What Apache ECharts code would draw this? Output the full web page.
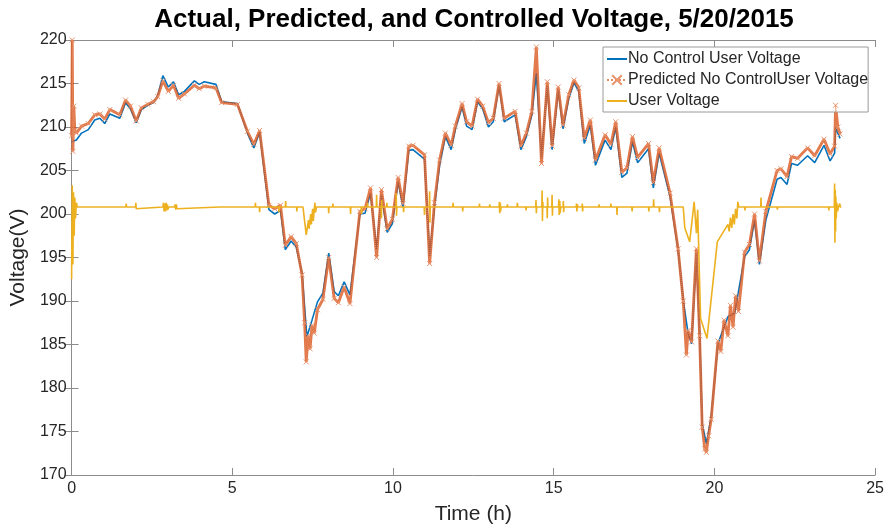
<!DOCTYPE html>
<html>
<head>
<meta charset="utf-8">
<script src="https://cdn.jsdelivr.net/npm/echarts@6/dist/echarts.min.js"></script>
<style>html,body{margin:0;padding:0;background:#fff;}#c{width:887px;height:531px;}</style>
</head>
<body>
<div id="c"></div>
<script>
const xTicks = [0, 5, 10, 15, 20, 25];
const yTicks = [170, 175, 180, 185, 190, 195, 200, 205, 210, 215, 220];
const seriesNames = ['No Control User Voltage', 'Predicted No ControlUser Voltage', 'User Voltage'];

const noControl = [
[0,208.3],[0.15,208.5],[0.31,209.3],[0.52,209.7],[0.72,210.8],[0.88,211.0],[1.03,210.4],[1.19,211.5],[1.5,211.0],[1.68,212.8],[1.83,212.1],[2.01,210.5],[2.17,212.0],[2.37,212.5],[2.55,212.8],[2.68,213.6],[2.84,215.9],[3.01,214.6],[3.17,215.2],[3.33,213.7],[3.51,214.1],[3.82,215.3],[3.97,214.9],[4.13,215.2],[4.49,214.9],[4.67,212.9],[5.16,212.7],[5.47,209.3],[5.67,207.6],[5.85,209.4],[6.14,200.5],[6.32,200.0],[6.5,200.4],[6.65,195.9],[6.83,196.9],[6.99,196.2],[7.17,193.2],[7.32,185.9],[7.48,187.8],[7.65,189.9],[7.82,190.9],[8.0,195.5],[8.17,191.1],[8.3,190.6],[8.48,192.2],[8.66,190.7],[8.97,200.0],[9.13,200.1],[9.3,202.4],[9.49,195.9],[9.64,202.2],[9.82,197.9],[9.98,198.9],[10.16,203.7],[10.31,200.8],[10.49,207.3],[10.62,207.4],[10.98,206.3],[11.14,195.1],[11.29,200.8],[11.45,205.6],[11.63,208.9],[11.81,207.4],[11.94,209.7],[12.15,212.3],[12.29,210.1],[12.46,209.7],[12.63,212.9],[12.79,212.1],[12.97,210.0],[13.12,210.6],[13.3,214.8],[13.46,210.6],[13.8,211.4],[13.98,207.4],[14.15,208.9],[14.32,211.4],[14.46,216.2],[14.62,206.4],[14.8,214.8],[14.95,207.4],[15.14,214.3],[15.29,209.8],[15.47,213.3],[15.63,215.1],[15.78,214.1],[15.95,208.1],[16.14,210.2],[16.3,205.6],[16.6,208.5],[16.78,207.4],[16.93,210.0],[17.12,204.2],[17.28,204.7],[17.45,208.3],[17.61,205.9],[17.95,207.5],[18.1,203.0],[18.28,207.0],[18.62,202.0],[18.87,195.9],[19.03,190.1],[19.18,186.3],[19.29,185.1],[19.44,195.5],[19.54,186.3],[19.62,175.9],[19.75,173.6],[19.9,176.7],[20.11,185.1],[20.42,188.2],[20.63,188.6],[20.94,195.1],[21.09,195.9],[21.25,199.3],[21.4,194.2],[21.6,199.3],[21.95,204.0],[22.07,204.2],[22.26,203.4],[22.4,205.8],[22.59,205.6],[22.9,206.7],[23.12,205.9],[23.41,207.9],[23.6,206.1],[23.74,207.0],[23.77,209.9],[23.91,208.7]
];

const predicted = [
[0,209.0],[0.02,220.0],[0.04,207.2],[0.07,212.4],[0.1,209.6],[0.15,209.3],[0.31,210.1],[0.52,210.4],[0.72,211.4],[0.88,211.5],[1.03,210.9],[1.19,212.0],[1.5,211.4],[1.68,213.1],[1.83,212.4],[2.01,210.7],[2.17,212.2],[2.37,212.6],[2.55,212.9],[2.68,213.5],[2.84,215.3],[3.01,214.1],[3.17,214.8],[3.33,213.3],[3.51,213.8],[3.82,214.8],[3.97,214.4],[4.13,214.7],[4.49,214.5],[4.67,212.8],[5.16,212.6],[5.47,209.5],[5.67,208.0],[5.85,209.6],[6.14,201.0],[6.32,200.6],[6.5,201.0],[6.65,196.4],[6.83,197.4],[6.99,196.6],[7.17,193.0],[7.25,187.5],[7.3,183.0],[7.36,186.0],[7.42,184.5],[7.48,187.2],[7.55,186.3],[7.65,189.0],[7.82,190.2],[8.0,195.0],[8.17,190.3],[8.3,189.8],[8.48,191.6],[8.66,189.7],[8.97,200.3],[9.13,200.6],[9.3,203.0],[9.49,195.0],[9.64,202.8],[9.82,198.3],[9.98,199.4],[10.16,204.2],[10.31,201.2],[10.49,207.8],[10.62,207.9],[10.98,206.8],[11.14,194.3],[11.29,201.3],[11.45,206.2],[11.63,209.3],[11.81,207.9],[11.94,210.1],[12.15,212.7],[12.29,210.6],[12.46,210.1],[12.63,213.2],[12.79,212.4],[12.97,210.5],[13.12,211.0],[13.3,215.0],[13.46,211.0],[13.8,211.8],[13.98,207.8],[14.15,209.3],[14.32,211.8],[14.46,219.2],[14.62,205.8],[14.8,215.2],[14.95,207.8],[15.14,214.6],[15.29,210.2],[15.47,213.7],[15.63,215.4],[15.78,214.5],[15.95,208.7],[16.14,210.8],[16.3,206.2],[16.6,209.1],[16.78,208.0],[16.93,210.6],[17.12,204.8],[17.28,205.3],[17.45,208.9],[17.61,206.5],[17.95,208.1],[18.1,203.6],[18.28,207.6],[18.62,202.4],[18.87,196.0],[19.03,190.0],[19.13,183.8],[19.18,186.6],[19.29,185.3],[19.44,196.0],[19.54,186.0],[19.62,175.5],[19.7,173.0],[19.75,172.6],[19.82,174.5],[19.9,176.4],[20.11,185.4],[20.2,184.2],[20.3,187.8],[20.42,186.0],[20.5,189.5],[20.58,187.0],[20.66,190.6],[20.75,188.8],[20.94,195.6],[21.09,196.5],[21.25,200.0],[21.4,194.6],[21.6,200.3],[21.95,205.0],[22.07,205.2],[22.26,204.3],[22.4,206.6],[22.59,206.4],[22.9,207.6],[23.12,206.7],[23.41,208.6],[23.6,206.9],[23.74,207.8],[23.77,212.5],[23.84,210.0],[23.91,209.2]
];

const userVoltage = [
[0,192.5],[0.02,203.3],[0.04,194.2],[0.06,202.5],[0.08,197.5],[0.1,201.9],[0.12,199.5],[0.15,201.3],[0.18,200.8],
[1.69,200.8],[1.7,201.2],[1.71,200.8],
[1.99,200.8],[2.0,201.3],[2.01,200.6],[2.02,200.8],
[2.84,200.8],[2.86,201.3],[2.88,200.3],[2.9,201.2],[2.92,200.3],[2.94,201.3],[2.96,200.4],[2.98,201.1],[3.0,200.5],[3.02,200.8],
[3.2,200.8],[3.22,201.1],[3.24,200.5],[3.26,201.1],[3.28,200.6],[3.3,200.8],
[4.6,200.8],[4.61,201.0],[4.62,200.8],
[5.71,200.8],[5.72,201.3],[5.73,200.8],[5.84,200.8],[5.85,200.2],[5.86,200.8],
[6.44,200.8],[6.45,200.2],[6.46,200.8],[6.65,200.8],[6.66,201.5],[6.67,200.8],
[7.0,200.8],[7.01,200.3],[7.02,200.8],
[7.2,200.8],[7.3,197.6],[7.37,199.3],[7.39,198.3],[7.44,200.0],[7.46,198.8],[7.5,200.6],[7.52,199.2],[7.57,201.3],[7.59,200.2],[7.62,200.8],
[7.99,200.8],[8.0,200.1],[8.01,200.8],
[8.12,200.8],[8.13,201.2],[8.14,200.8],
[8.67,200.8],[8.68,200.0],[8.69,200.8],
[9.01,200.8],[9.02,200.0],[9.03,200.8],
[9.2,200.8],[9.21,201.3],[9.22,200.8],
[9.48,200.8],[9.49,202.2],[9.5,200.8],
[9.63,200.8],[9.64,199.5],[9.65,201.6],[9.66,200.8],
[9.8,200.8],[9.81,201.3],[9.82,200.8],
[10.09,200.8],[10.1,202.4],[10.11,199.8],[10.12,200.8],
[10.32,200.8],[10.33,200.2],[10.34,200.8],
[10.97,200.8],[10.98,199.9],[10.99,200.8],
[11.13,200.8],[11.14,202.6],[11.15,199.0],[11.16,200.8],
[11.86,200.8],[11.87,201.3],[11.88,200.8],
[12.16,200.8],[12.17,200.3],[12.18,200.8],
[12.68,200.8],[12.69,201.2],[12.7,200.8],
[13.0,200.8],[13.01,201.1],[13.02,200.8],
[13.3,200.8],[13.31,201.4],[13.32,200.1],[13.34,201.3],[13.35,200.3],[13.36,200.8],
[13.55,200.8],[13.56,201.1],[13.57,200.8],
[13.86,200.8],[13.87,201.3],[13.88,200.8],
[14.13,200.8],[14.14,200.4],[14.15,200.8],
[14.44,200.8],[14.45,201.6],[14.46,200.1],[14.47,200.8],
[14.63,200.8],[14.64,202.7],[14.65,199.2],[14.66,201.4],[14.67,200.8],
[14.79,200.8],[14.8,199.5],[14.81,201.9],[14.82,200.8],
[14.94,200.8],[14.95,202.2],[14.96,199.8],[14.97,200.8],
[15.15,200.8],[15.16,201.7],[15.17,199.9],[15.19,201.5],[15.2,200.1],[15.22,200.8],
[15.29,200.8],[15.3,201.5],[15.31,200.2],[15.32,200.8],
[15.7,200.8],[15.71,201.2],[15.72,200.3],[15.74,201.1],[15.75,200.8],
[15.88,200.8],[15.89,201.2],[15.9,200.3],[15.91,200.8],
[16.4,200.8],[16.41,201.1],[16.42,200.8],
[16.77,200.8],[16.78,201.2],[16.79,200.8],
[16.96,200.8],[16.97,199.9],[16.98,200.8],
[17.43,200.8],[17.44,200.3],[17.45,200.8],
[17.5,200.8],[17.51,201.0],[17.52,200.8],
[17.95,200.8],[17.96,200.3],[17.97,200.8],
[18.1,200.8],[18.11,201.7],[18.12,200.8],
[18.28,200.8],[18.29,200.2],[18.3,200.8],
[19.03,200.8],[19.08,198.4],[19.23,196.8],[19.37,201.4],[19.44,197.8],[19.48,200.5],[19.57,188.0],[19.77,185.7],[20.09,196.8],[20.42,198.8],[20.46,198.0],[20.5,199.6],[20.54,198.4],[20.58,200.0],[20.62,198.8],[20.66,200.6],[20.7,199.5],[20.73,201.4],[20.76,200.8],
[20.94,200.8],[20.95,200.4],[20.96,200.8],
[21.44,200.8],[21.45,201.9],[21.46,200.8],
[21.95,200.8],[21.96,200.5],[21.97,200.8],
[22.95,200.8],[22.96,201.0],[22.97,200.8],
[23.55,200.8],[23.56,200.4],[23.57,200.8],
[23.73,200.8],[23.74,203.5],[23.75,196.7],[23.76,202.8],[23.77,198.0],[23.78,202.0],[23.79,199.5],[23.81,201.3],[23.83,200.3],[23.86,200.8],[23.9,201.2],[23.92,200.8],[23.95,200.8]
];

const FONT = 'Liberation Sans, Arial, Helvetica, sans-serif';
const AXC = '#8c8c8c';
const TXT = '#262626';
const XPATH = 'path://M0,0L10,10M10,0L0,10';

const chart = echarts.init(document.getElementById('c'), null, {renderer: 'canvas'});

function axisBase(extra) {
  return Object.assign({
    type: 'value',
    axisLine: {show: true, lineStyle: {color: AXC, width: 1}},
    axisTick: {show: true, inside: true, length: 7, lineStyle: {color: AXC}},
    splitLine: {show: false},
    axisLabel: {show: false}
  }, extra);
}

const noMarker = {color: 'rgba(0,0,0,0)', borderWidth: 0, opacity: 0};

chart.setOption({
  animation: false,
  backgroundColor: '#ffffff',
  textStyle: {fontFamily: FONT},
  graphic: [{
    type: 'text', x: 474, y: 20,
    style: {text: 'Actual, Predicted, and Controlled Voltage, 5/20/2015', fontSize: 26, fontWeight: 'bold',
            fontFamily: FONT, fill: '#000', textAlign: 'center', textVerticalAlign: 'middle'}
  }],
  grid: {left: 70, right: 9, top: 40, bottom: 56, containLabel: false},
  legend: {
    data: [
      {name: seriesNames[0], itemStyle: noMarker},
      {name: seriesNames[1]},
      {name: seriesNames[2], itemStyle: noMarker}
    ],
    orient: 'vertical', left: 603, top: 47,
    backgroundColor: '#fff', borderColor: '#9a9a9a', borderWidth: 1, borderRadius: 0,
    padding: [4, 0, 3, 3], itemGap: 5, itemWidth: 20, itemHeight: 12,
    textStyle: {fontSize: 16, color: TXT, fontFamily: FONT, padding: [0, 0, 0, -4]}
  },
  xAxis: [
    axisBase({position: 'bottom', min: xTicks[0], max: xTicks[xTicks.length-1], interval: xTicks[1]-xTicks[0],
      name: 'Time (h)', nameLocation: 'middle', nameGap: 29,
      nameTextStyle: {fontSize: 21, color: TXT, fontFamily: FONT},
      axisLabel: {show: true, fontSize: 16, color: TXT, margin: 6, fontFamily: FONT}}),
    axisBase({position: 'top', min: xTicks[0], max: xTicks[xTicks.length-1], interval: xTicks[1]-xTicks[0]})
  ],
  yAxis: [
    axisBase({position: 'left', min: yTicks[0], max: yTicks[yTicks.length-1], interval: yTicks[1]-yTicks[0],
      name: 'Voltage(V)', nameLocation: 'middle', nameGap: 38, nameRotate: 90,
      nameTextStyle: {fontSize: 21, color: TXT, fontFamily: FONT},
      axisLabel: {show: true, fontSize: 16, color: TXT, margin: 5, fontFamily: FONT}}),
    axisBase({position: 'right', min: yTicks[0], max: yTicks[yTicks.length-1], interval: yTicks[1]-yTicks[0]})
  ],
  series: [
    {
      name: seriesNames[0], type: 'line', data: noControl, showSymbol: false, symbol: 'none',
      lineStyle: {color: '#0072BD', width: 1.6}, itemStyle: {color: '#0072BD'}, z: 2
    },
    {
      name: 'predicted-band', type: 'line', data: predicted, showSymbol: false, symbol: 'none',
      lineStyle: {color: '#D95319', width: 2.8, opacity: 0.8}, z: 3, silent: true
    },
    {
      name: seriesNames[1], type: 'line', data: predicted, symbol: XPATH, symbolSize: 5, showAllSymbol: true,
      lineStyle: {color: '#E58A5F', width: 1, type: 'dotted'},
      itemStyle: {color: 'rgba(0,0,0,0)', borderColor: '#E8936C', borderWidth: 1}, z: 4
    },
    {
      name: seriesNames[2], type: 'line', data: userVoltage, showSymbol: false, symbol: 'none',
      lineStyle: {color: '#EDB120', width: 1.6}, itemStyle: {color: '#EDB120'}, z: 5
    }
  ]
});
</script>
</body>
</html>
